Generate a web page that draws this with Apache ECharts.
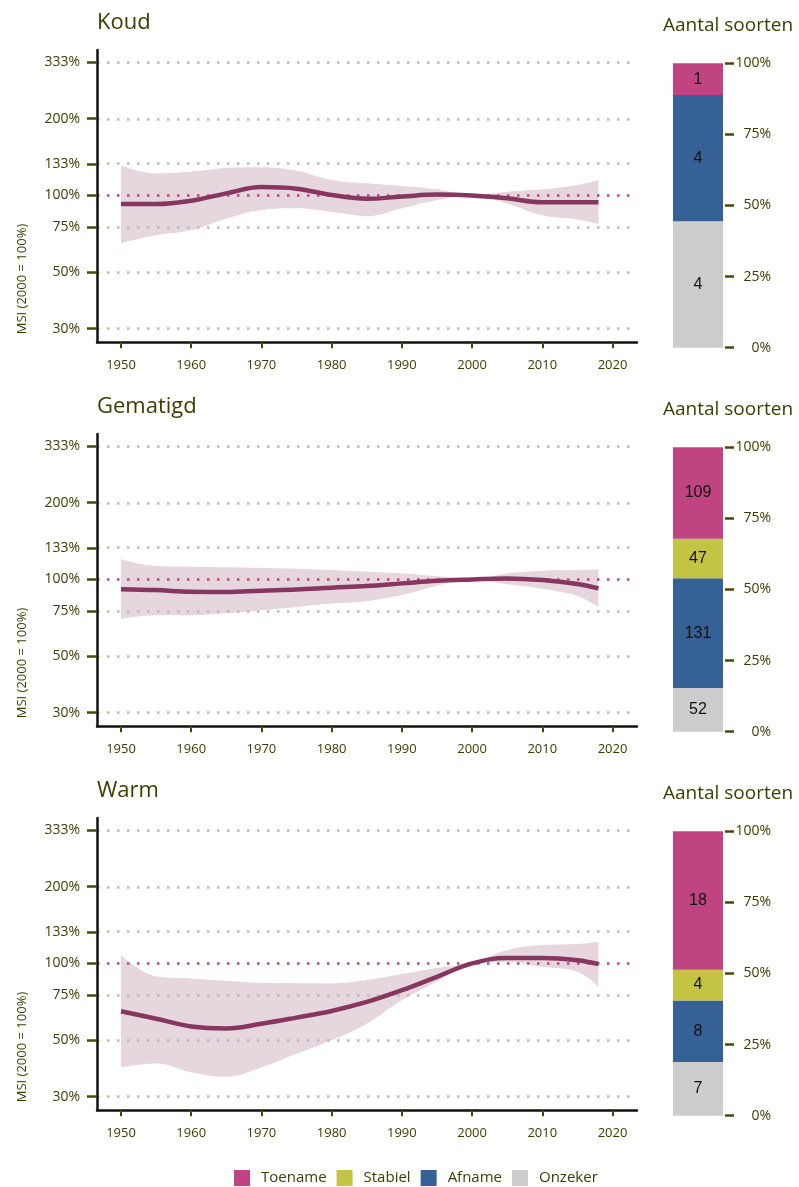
<!DOCTYPE html>
<html><head><meta charset="utf-8">
<script src="https://cdn.jsdelivr.net/npm/echarts@6/dist/echarts.min.js"></script>
<style>html,body{margin:0;padding:0;background:#fff}#c{width:799px;height:1187px}</style>
</head><body><div id="c"></div>
<script>
// ---------- data ----------
const panelTitles = ['Koud', 'Gematigd', 'Warm'];
const years = [1950,1955,1960,1965,1970,1975,1980,1985,1990,1995,2000,2005,2010,2015,2018];

const koudLine  = [92.5, 92.5, 95.3, 101.9, 107.8, 106.3, 100.4, 97.0, 99.0, 100.8, 100, 97.4, 94.0, 94.0, 94.0];
const koudUpper = [131, 122, 124, 128, 129, 125, 115, 111.6, 108.9, 105.7, 100.3, 103.4, 105.7, 110, 115];
const koudLower = [65, 69.8, 73, 81, 87.6, 89, 86.2, 82.9, 89, 95.9, 99.7, 93, 83.6, 80.5, 77.2];

const gemLine  = [91.6, 90.8, 89.4, 89.2, 90.3, 91.3, 92.8, 94.2, 96.5, 98.8, 100, 100.9, 99.4, 95.9, 92.2];
const gemUpper = [120, 112.9, 112.2, 111.6, 110.9, 110.2, 108.9, 107.2, 105.6, 103.1, 100.3, 105.6, 108.2, 108.9, 109.6];
const gemLower = [70, 72.4, 72.4, 73.6, 75.7, 78, 80.4, 82.2, 86.8, 94.5, 99.7, 95.8, 91.9, 86, 77.6];

const warmLine  = [64.9, 60.7, 56.6, 55.6, 58.0, 61.3, 65.1, 70.6, 78.5, 88.6, 100, 105, 105, 103, 99.5];
const warmUpper = [108, 89, 87.3, 85.5, 83.9, 83.6, 83.5, 86, 90.8, 96, 100.3, 113, 118, 119.3, 121.5];
const warmLower = [39.1, 40.5, 37.4, 35.9, 39.1, 44.2, 49.9, 58, 71.7, 85, 99.7, 101.6, 97, 92.7, 80.9];

const msiTicks = [30, 50, 75, 100, 133, 200, 333];
const yearTicks = [1950, 1960, 1970, 1980, 1990, 2000, 2010, 2020];

const categories = ['Toename', 'Stabiel', 'Afname', 'Onzeker'];
const koudCounts = [1, 0, 4, 4];
const gemCounts  = [109, 47, 131, 52];
const warmCounts = [18, 4, 8, 7];
const pctTicksLabel = '{value}%';

// ---------- build ----------
const lines  = [koudLine, gemLine, warmLine];
const uppers = [koudUpper, gemUpper, warmUpper];
const lowers = [koudLower, gemLower, warmLower];
const counts = [koudCounts, gemCounts, warmCounts];

const OLIVE = '#3d3d00';
const TICK = '#4a4a08';
const FONT = 'Open Sans';
const catColors = {Toename:'#c04481', Stabiel:'#c4c444', Afname:'#356196', Onzeker:'#cccccc'};
const t = v => Math.log(v / 100);
const YMIN = -1.327, YMAX = 1.314;
const XMIN = 1946.58, XMAX = 2023.49;
const OFF = 384;
const SMOOTH = 0.4;

const grid = [], xAxis = [], yAxis = [], series = [], graphic = [];

for (let i = 0; i < 3; i++) grid.push({left: 97, top: 50 + OFF * i, width: 540, height: 292.3});
for (let i = 0; i < 3; i++) grid.push({left: 673, top: 63.3 + OFF * i, width: 50, height: 284.4});

for (let i = 0; i < 3; i++) {
  xAxis.push({
    type: 'value', gridIndex: i, min: XMIN, max: XMAX, z: 12,
    axisLine: {show: true, onZero: false, lineStyle: {color: '#111', width: 2.5}},
    axisTick: {show: true, customValues: yearTicks, length: 6, lineStyle: {color: TICK, width: 2}},
    axisLabel: {customValues: yearTicks, formatter: v => String(Math.round(v)), margin: 16,
      fontSize: 13, color: OLIVE, fontFamily: FONT},
    splitLine: {show: false}
  });
  yAxis.push({
    type: 'value', gridIndex: i, min: YMIN, max: YMAX, z: 12,
    axisLine: {show: true, onZero: false, lineStyle: {color: '#111', width: 2.5}},
    axisTick: {show: true, customValues: msiTicks.map(t), length: 10, lineStyle: {color: TICK, width: 2.5}},
    axisLabel: {customValues: msiTicks.map(t), formatter: v => Math.round(100 * Math.exp(v)) + '%',
      margin: 17, fontSize: 14, color: OLIVE, fontFamily: FONT},
    splitLine: {show: false}
  });
}
for (let i = 0; i < 3; i++) {
  xAxis.push({type: 'category', gridIndex: 3 + i, data: ['x'], show: false});
  yAxis.push({
    type: 'value', gridIndex: 3 + i, min: 0, max: 100, interval: 25, position: 'right', offset: 2,
    axisLine: {show: false},
    axisTick: {show: true, length: 9, lineStyle: {color: TICK, width: 2.5}},
    axisLabel: {formatter: pctTicksLabel, align: 'right', margin: 46, fontSize: 14, color: OLIVE, fontFamily: FONT},
    splitLine: {show: false}
  });
}

for (let i = 0; i < 3; i++) {
  const up = uppers[i], lo = lowers[i], ln = lines[i];
  // band = lower bound (invisible) + stacked (upper - lower) area; y stored in dim 0 so it is the stacked dim
  series.push({
    type: 'line', xAxisIndex: i, yAxisIndex: i, smooth: SMOOTH, symbol: 'none', silent: true,
    stack: 'band' + i, stackStrategy: 'all',
    data: years.map((y, k) => [t(lo[k]), y]), encode: {x: 1, y: 0},
    lineStyle: {width: 0, opacity: 0}
  });
  series.push({
    type: 'line', xAxisIndex: i, yAxisIndex: i, smooth: SMOOTH, symbol: 'none', silent: true,
    stack: 'band' + i, stackStrategy: 'all',
    data: years.map((y, k) => [t(up[k]) - t(lo[k]), y]), encode: {x: 1, y: 0},
    lineStyle: {width: 0, opacity: 0},
    areaStyle: {color: '#e6d6de', opacity: 1},
    markLine: {
      silent: true, symbol: 'none', label: {show: false}, animation: false,
      data: msiTicks.map(v => ({
        yAxis: t(v),
        lineStyle: v === 100
          ? {color: '#c0427f', width: 2.5, type: [2.5, 7.5], cap: 'butt'}
          : {color: '#b9b9b9', width: 2.5, type: [2.5, 7.5], cap: 'butt'}
      }))
    }
  });
  series.push({
    type: 'line', xAxisIndex: i, yAxisIndex: i, smooth: SMOOTH, symbol: 'none', z: 10,
    data: years.map((y, k) => [y, t(ln[k])]),
    lineStyle: {color: '#86365f', width: 4.5}
  });
}

for (let i = 0; i < 3; i++) {
  const c = counts[i];
  const total = c.reduce((a, b) => a + b, 0);
  ['Onzeker', 'Afname', 'Stabiel', 'Toename'].forEach(name => {
    const k = categories.indexOf(name);
    series.push({
      type: 'bar', name, xAxisIndex: 3 + i, yAxisIndex: 3 + i, stack: 's' + i, barWidth: '100%',
      data: [c[k] / total * 100],
      itemStyle: {color: catColors[name]},
      label: {show: true, position: 'inside', formatter: () => c[k] ? String(c[k]) : '',
        fontSize: 16, color: '#111', fontFamily: 'Liberation Sans'}
    });
  });
}

for (let i = 0; i < 3; i++) {
  graphic.push({type: 'text', left: 97, top: 12 + OFF * i,
    style: {text: panelTitles[i], font: '22px "' + FONT + '"', fill: OLIVE}});
  graphic.push({type: 'text', left: 663, top: 16 + OFF * i,
    style: {text: 'Aantal soorten', font: '19px "' + FONT + '"', fill: OLIVE}});
  graphic.push({type: 'text', x: 22, y: 279 + OFF * i, rotation: Math.PI / 2,
    style: {text: 'MSI (2000 = 100%)', font: '13px "' + FONT + '"', fill: OLIVE,
      align: 'center', verticalAlign: 'middle'}});
}

const chart = echarts.init(document.getElementById('c'), null, {renderer: 'canvas'});
chart.setOption({
  animation: false,
  backgroundColor: '#fff',
  textStyle: {fontFamily: FONT},
  grid, xAxis, yAxis, series, graphic,
  legend: {
    data: categories, icon: 'rect', itemWidth: 16, itemHeight: 16, itemGap: 10,
    left: 234, top: 1170, padding: 0, selectedMode: false,
    textStyle: {color: OLIVE, fontSize: 15, fontFamily: FONT, padding: [0, 0, 0, 6]}
  }
});
</script>
</body></html>
